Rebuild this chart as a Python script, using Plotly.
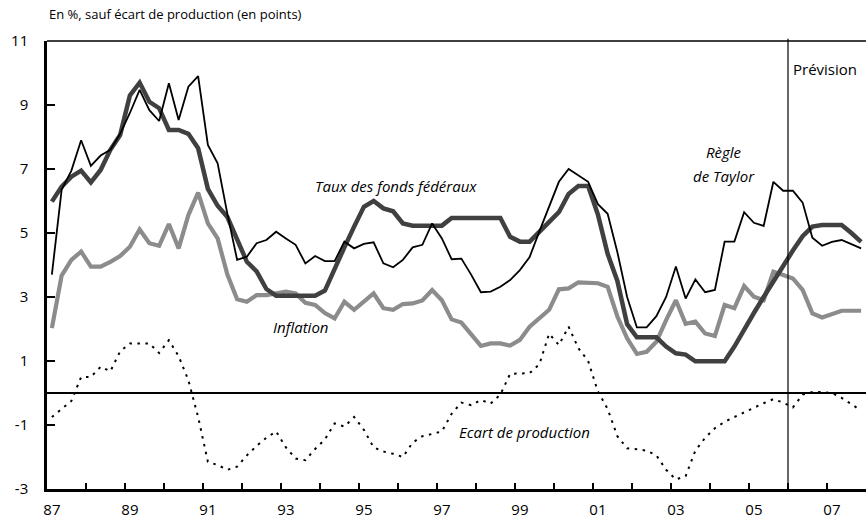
import plotly.graph_objects as go

start_year = 1987
taylor = [3.7, 6.35, 6.95, 7.9, 7.1, 7.42, 7.6, 8.1, 8.75, 9.47, 8.84, 8.5, 9.68, 8.53, 9.57, 9.9,
          7.75, 7.18, 5.6, 4.16, 4.26, 4.68, 4.78, 5.04, 4.83, 4.63, 4.05, 4.28, 4.12, 4.12, 4.73, 4.52,
          4.66, 4.71, 4.05, 3.93, 4.16, 4.55, 4.63, 5.3, 4.83, 4.18, 4.2, 3.7, 3.15, 3.17, 3.32, 3.53,
          3.84, 4.25, 5.05, 5.85, 6.6, 7.0, 6.8, 6.6, 5.9, 5.6, 4.4, 3.0, 2.05, 2.05, 2.4, 3.0,
          3.95, 2.95, 3.55, 3.15, 3.22, 4.73, 4.73, 5.65, 5.32, 5.22, 6.6, 6.32, 6.32, 5.95, 4.85, 4.6,
          4.72, 4.78, 4.65, 4.52]
fed_funds = [5.98, 6.45, 6.76, 6.95, 6.58, 6.97, 7.6, 8.06, 9.3, 9.7, 9.1, 8.9, 8.22, 8.22, 8.1, 7.65,
             6.38, 5.85, 5.5, 4.78, 4.1, 3.8, 3.25, 3.04, 3.04, 3.04, 3.04, 3.04, 3.2, 3.92, 4.55, 5.2,
             5.82, 6.0, 5.77, 5.68, 5.3, 5.23, 5.23, 5.23, 5.23, 5.47, 5.47, 5.47, 5.47, 5.47, 5.47, 4.88,
             4.73, 4.73, 5.05, 5.37, 5.65, 6.22, 6.47, 6.47, 5.58, 4.35, 3.5, 2.15, 1.74, 1.74, 1.74, 1.45,
             1.24, 1.2, 0.99, 0.99, 0.99, 0.99, 1.45, 2.0, 2.5, 3.0, 3.5, 4.0, 4.45, 4.9, 5.2, 5.25,
             5.25, 5.25, 5.0, 4.72]
inflation = [2.03, 3.67, 4.16, 4.42, 3.95, 3.95, 4.1, 4.28, 4.57, 5.11, 4.68, 4.6, 5.28, 4.52, 5.56, 6.26,
             5.3, 4.83, 3.7, 2.93, 2.85, 3.06, 3.06, 3.11, 3.17, 3.11, 2.82, 2.75, 2.5, 2.33, 2.85, 2.6,
             2.85, 3.11, 2.65, 2.6, 2.78, 2.8, 2.89, 3.22, 2.9, 2.3, 2.2, 1.81, 1.47, 1.55, 1.55, 1.48,
             1.66, 2.07, 2.33, 2.6, 3.24, 3.27, 3.46, 3.45, 3.43, 3.32, 2.39, 1.71, 1.22, 1.29, 1.6, 2.28,
             2.9, 2.16, 2.23, 1.86, 1.78, 2.75, 2.65, 3.34, 3.01, 2.9, 3.79, 3.69, 3.58, 3.22, 2.49, 2.36,
             2.47, 2.57, 2.57, 2.57]
output_gap = [-0.75, -0.5, -0.25, 0.5, 0.5, 0.82, 0.68, 1.3, 1.55, 1.55, 1.55, 1.25, 1.65, 1.15, 0.4, -0.75,
              -2.15, -2.25, -2.4, -2.3, -1.95, -1.65, -1.4, -1.2, -1.7, -2.05, -2.1, -1.75, -1.45, -0.95, -1.05, -0.75,
              -1.15, -1.7, -1.83, -1.9, -2.0, -1.55, -1.35, -1.28, -1.2, -0.65, -0.3, -0.38, -0.22, -0.33, -0.05, 0.6,
              0.6, 0.62, 0.9, 1.85, 1.5, 2.07, 1.4, 1.0, 0.05, -0.5, -1.35, -1.73, -1.76, -1.8, -1.95, -2.4,
              -2.7, -2.6, -1.8, -1.4, -1.1, -0.9, -0.75, -0.6, -0.45, -0.32, -0.19, -0.3, -0.45, -0.05, 0.03, 0.03,
              0.0, -0.15, -0.35, -0.55]
forecast_start = 2006
y_ticks = [-3, -1, 1, 3, 5, 7, 9, 11]
x_label_years = list(range(1987, 2008, 2))
x_tick_text = [str(y)[-2:] for y in x_label_years]

n = len(taylor)
x = [start_year + (i + 0.5) / 4 for i in range(n)]

FONT = "Open Sans"
fig = go.Figure()
fig.add_trace(go.Scatter(x=x, y=output_gap, mode="lines", hoverinfo="skip",
                         line=dict(color="black", width=2, dash="2.5px,5.5px")))
fig.add_trace(go.Scatter(x=x, y=inflation, mode="lines", hoverinfo="skip",
                         line=dict(color="#8c8c8c", width=4.2)))
fig.add_trace(go.Scatter(x=x, y=fed_funds, mode="lines", hoverinfo="skip",
                         line=dict(color="#404040", width=4.5)))
fig.add_trace(go.Scatter(x=x, y=taylor, mode="lines", hoverinfo="skip",
                         line=dict(color="black", width=1.8)))

fig.update_layout(
    width=868, height=528, showlegend=False,
    margin=dict(l=47, r=2, t=41, b=39),
    paper_bgcolor="white", plot_bgcolor="white",
    font=dict(family=FONT, color="black", size=15),
    xaxis=dict(range=[1987, 2008], showgrid=False, zeroline=False,
               showline=True, linecolor="black", linewidth=2.5,
               tickmode="array", tickvals=[yy + 0.125 for yy in x_label_years],
               ticktext=x_tick_text, ticks="", ticklabelstandoff=5,
               tickfont=dict(size=15, family=FONT),
               minor=dict(tickmode="array", tickvals=list(range(1988, 2008)),
                          ticks="inside", ticklen=6, tickwidth=2, tickcolor="black",
                          showgrid=False)),
    yaxis=dict(range=[-3, 11], showgrid=False, zeroline=True, zerolinecolor="black",
               zerolinewidth=1.5, showline=True, linecolor="black", linewidth=2.5,
               tickmode="array", tickvals=y_ticks, ticktext=[str(v) for v in y_ticks],
               ticks="inside", ticklen=8, tickwidth=2, tickcolor="black",
               ticklabelstandoff=13, tickfont=dict(size=15, family=FONT)),
)

# top border
fig.add_shape(type="line", xref="paper", yref="paper", x0=0, x1=1, y0=1, y1=1,
              line=dict(color="black", width=1.5))
# forecast separator
fig.add_shape(type="line", xref="x", yref="paper", x0=forecast_start, x1=forecast_start,
              y0=0, y1=1.005, line=dict(color="black", width=1.2))

def ann(text, xx, yy, xanchor="center", italic=True, size=15):
    fig.add_annotation(x=xx, y=yy, xref="x", yref="y", text=f"<i>{text}</i>" if italic else text,
                       showarrow=False, xanchor=xanchor, yanchor="middle",
                       font=dict(family=FONT, size=size, color="black"))

ann("Taux des fonds fédéraux", 1995.95, 6.47)
ann("Règle", 2004.35, 7.54)
ann("de Taylor", 2004.35, 6.79)
ann("Inflation", 1993.49, 2.07)
ann("Ecart de production", 1997.5, -1.21, xanchor="left")
ann("Prévision", 2006.07, 10.12, xanchor="left", italic=False)

fig.add_annotation(x=0, y=1, xref="paper", yref="paper",
                   text="En %, sauf écart de production (en points)", showarrow=False,
                   xanchor="left", yanchor="bottom", yshift=16,
                   font=dict(family=FONT, size=13, color="black"))

fig.write_html("out.html", config={"displayModeBar": False},
               post_script="document.body.style.margin='0';document.body.style.padding='0';")
